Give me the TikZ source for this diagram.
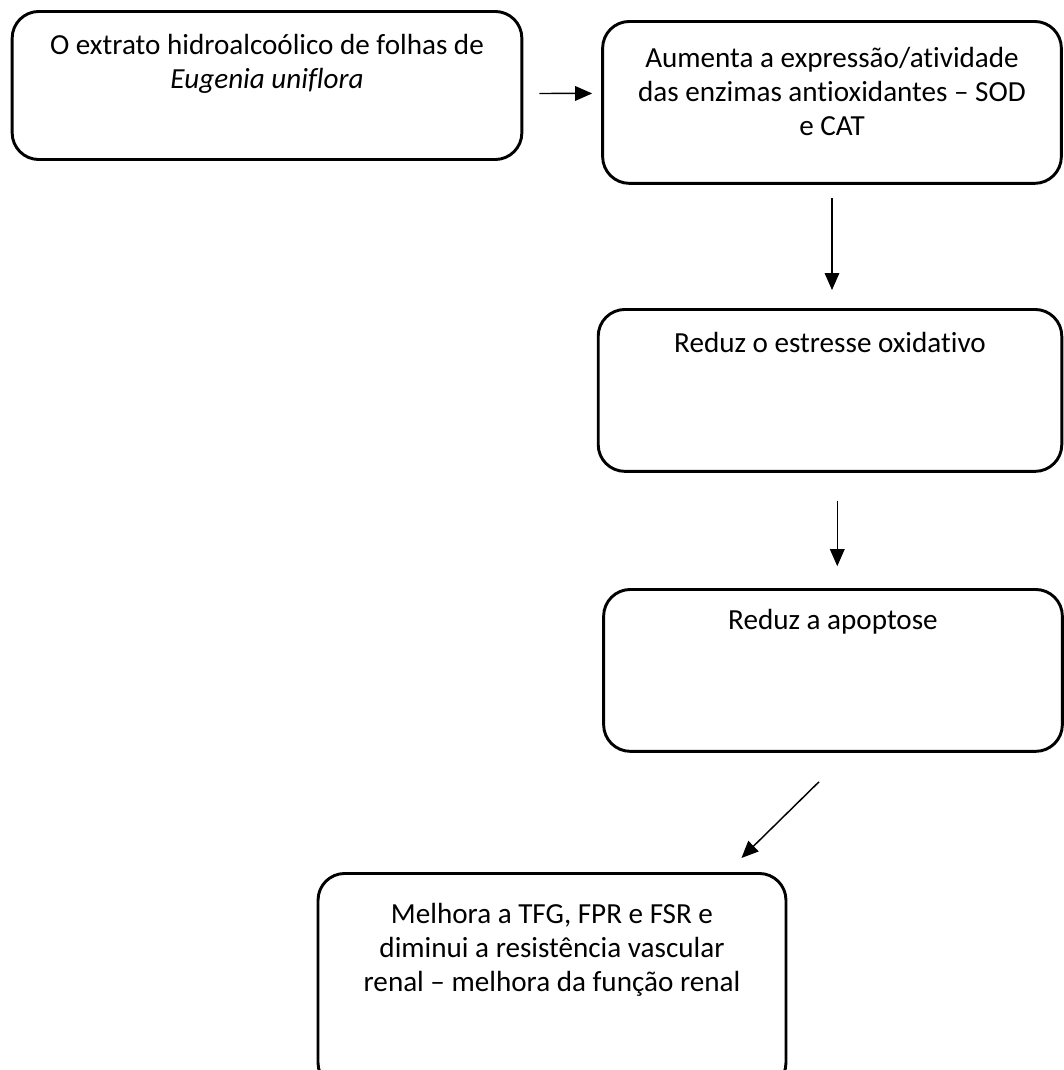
\documentclass[tikz,border=0pt]{standalone}
\usepackage{fontspec}
\setmainfont{Carlito}[Ligatures=NoCommon]
\usepackage{tikz}
\usetikzlibrary{arrows.meta}

\begin{document}
\begin{tikzpicture}[
x=0.412pt, y=-0.412pt,
stage/.style={draw, line width=1.2pt, rounded corners=11pt, anchor=north, inner sep=0pt, align=flush center, font=\fontsize{12}{14}\selectfont},
arrow/.style={-{Triangle[length=7pt, width=6pt]}, line width=0.6pt}
]
\useasboundingbox (0,0) rectangle (1064,1070);
\node[stage, text width=210pt, text height=17.8pt, text depth=43.2pt] (extract) at (267,10)
  {O extrato hidroalcoólico de folhas de\\ \textit{Eugenia uniflora}};
\node[stage, text width=189pt, text height=19pt, text depth=47.7pt] (enzymes) at (832,20)
  {Aumenta a expressão/atividade\\ das enzimas antioxidantes -- SOD\\ e CAT};
\node[stage, text width=191pt, text height=17.7pt, text depth=49pt] (stress) at (830,308)
  {Reduz o estresse oxidativo};
\node[stage, text width=189pt, text height=16.5pt, text depth=50.2pt] (apoptosis) at (833,588)
  {Reduz a apoptose};
\node[stage, text width=192.8pt, text height=20.5pt, text depth=68.5pt] (renal) at (552,872)
  {Melhora a TFG, FPR e FSR e\\ diminui a resistência vascular\\ renal -- melhora da função renal};
\draw[arrow, shorten <=6.6pt, shorten >=3.7pt] ([yshift=-3.3pt]extract.east) -- ([yshift=3.7pt]enzymes.west);
\draw[arrow, shorten <=5.5pt, shorten >=7.4pt] (enzymes.south) -- (enzymes.south |- stress.north);
\draw[arrow, shorten <=11.5pt, shorten >=9pt] ([xshift=3pt]stress.south) -- ([xshift=3pt]stress.south |- apoptosis.north);
\draw[arrow] ([shift={(-14,29)}]apoptosis.south) -- ([shift={(-46,-14)}]renal.north east);
\end{tikzpicture}
\end{document}
